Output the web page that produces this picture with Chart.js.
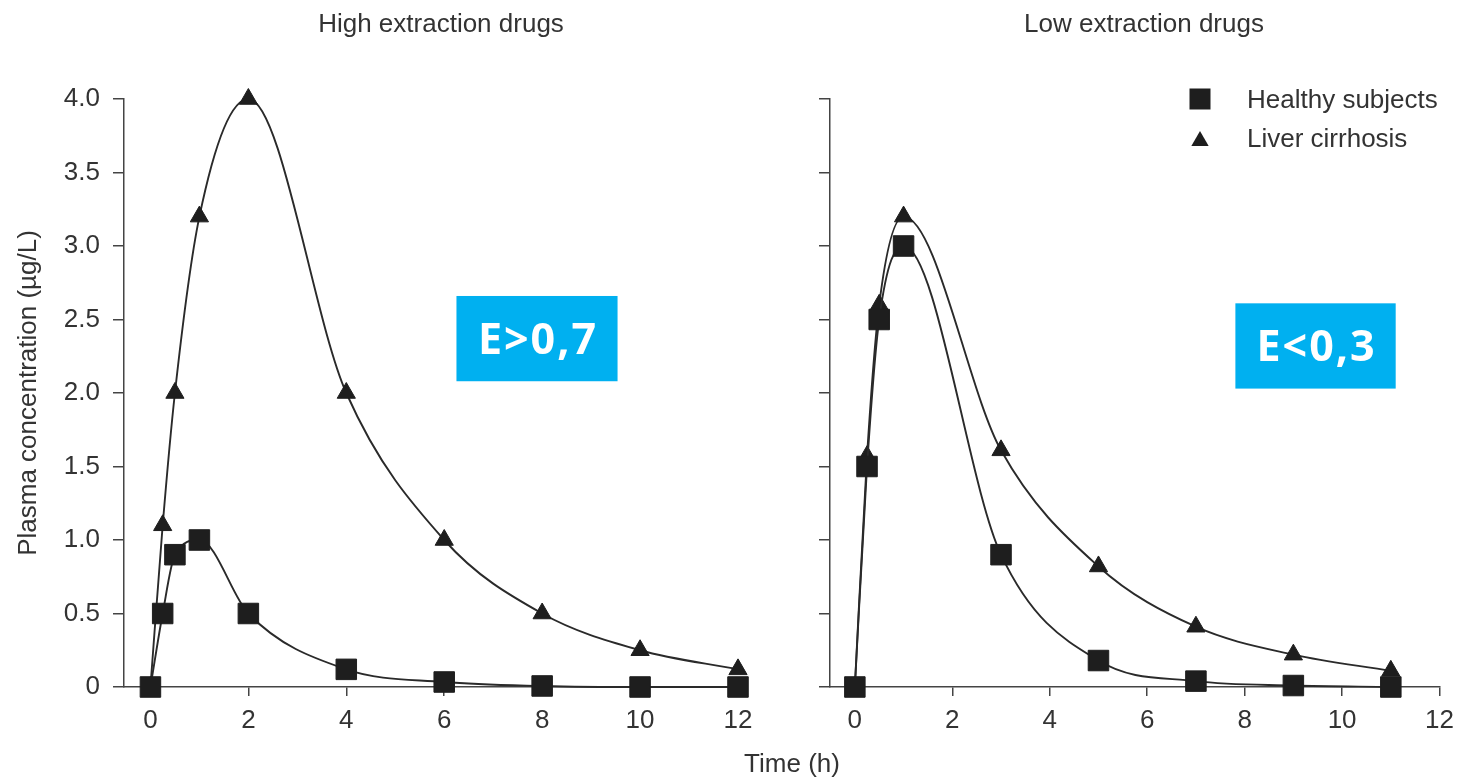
<!DOCTYPE html>
<html><head><meta charset="utf-8">
<script src="https://cdn.jsdelivr.net/npm/chart.js@4.4.1/dist/chart.umd.min.js"></script>
<style>
html,body{margin:0;padding:0;background:#fff;}
#wrap{position:relative;width:1463px;height:778px;overflow:hidden;}
canvas{position:absolute;left:0;top:0;}
</style></head><body>
<div id="wrap"><canvas id="c1" width="1463" height="778"></canvas><canvas id="c2" width="1463" height="778"></canvas></div>
<script>
// ---- data ----
const panelTitles = ['High extraction drugs', 'Low extraction drugs'];
const seriesNames = ['Healthy subjects', 'Liver cirrhosis'];
const xAxisTitle = 'Time (h)';
const yAxisTitle = 'Plasma concentration (µg/L)';
const xTicks = [0, 2, 4, 6, 8, 10, 12];
const yTicks = [0, 0.5, 1, 1.5, 2, 2.5, 3, 3.5, 4];
const yTickLabels = ['0', '0.5', '1.0', '1.5', '2.0', '2.5', '3.0', '3.5', '4.0'];

const highTimes = [0, 0.25, 0.5, 1, 2, 4, 6, 8, 10, 12];
const highHealthy = [0, 0.5, 0.9, 1.0, 0.5, 0.12, 0.034, 0.007, 0, 0];
const highCirrhosis = [0, 1.1, 2.0, 3.2, 4.0, 2.0, 1.0, 0.5, 0.25, 0.12];

const lowTimes = [0, 0.25, 0.5, 1, 3, 5, 7, 9, 11];
const lowHealthy = [0, 1.5, 2.5, 3.0, 0.9, 0.18, 0.04, 0.01, 0];
const lowCirrhosis = [0, 1.57, 2.6, 3.2, 1.61, 0.82, 0.41, 0.22, 0.11];

const badgeTexts = ['E>0,7', 'E<0,3'];

// ---- styles ----
const FONT = '"Liberation Sans", Arial, Helvetica, sans-serif';
const TEXT = '#333333';
const INK = '#1e1e1e';
const AXIS = '#444444';

function makeDataset(label, xs, ys, style, radius) {
  return {
    label,
    data: xs.map((x, i) => ({x, y: ys[i]})),
    borderColor: '#2a2a2a', borderWidth: 1.9,
    backgroundColor: INK,
    pointBackgroundColor: INK, pointBorderColor: INK, pointBorderWidth: 1,
    pointStyle: style, pointRadius: radius, pointHoverRadius: radius,
    cubicInterpolationMode: 'monotone', clip: false, fill: false
  };
}

function xScale(min) {
  return {
    type: 'linear', min: min, max: 12,
    afterBuildTicks: s => { s.ticks = xTicks.map(v => ({value: v})); },
    afterFit: s => { s.height = 91; },
    grid: {display: true, drawOnChartArea: false, drawTicks: true, tickLength: 9, color: AXIS, lineWidth: 1.5},
    border: {display: true, color: AXIS, width: 1.5},
    ticks: {color: TEXT, font: {family: FONT, size: 26}, padding: 9, maxRotation: 0, autoSkip: false,
      callback: (v) => String(v)}
  };
}

function yScale(showLabels, width) {
  const s = {
    type: 'linear', min: 0, max: 4,
    afterBuildTicks: sc => { sc.ticks = yTicks.map(v => ({value: v})); },
    afterFit: sc => { sc.width = width; },
    grid: {display: true, drawOnChartArea: false, drawTicks: true, tickLength: 11, color: AXIS, lineWidth: 1.5},
    border: {display: true, color: AXIS, width: 1.5},
    ticks: {display: showLabels, color: TEXT, font: {family: FONT, size: 26}, padding: 13, autoSkip: false,
      callback: (v, i) => yTickLabels[i]}
  };
  if (showLabels) {
    s.title = {display: true, text: yAxisTitle, color: TEXT, font: {family: FONT, size: 26}, padding: {top: 13, bottom: 0}};
  }
  return s;
}

const extrasPlugin = {
  id: 'extras',
  afterDraw(chart, args, opts) {
    const ctx = chart.ctx;
    ctx.save();
    ctx.fillStyle = TEXT;
    ctx.textBaseline = 'alphabetic';
    ctx.font = '26px ' + FONT;
    (opts.texts || []).forEach(t => {
      ctx.textAlign = t.align || 'center';
      ctx.fillText(t.text, t.x, t.y);
    });
    // badge placed in data coordinates
    if (opts.badge) {
      const b = opts.badge;
      const xs = chart.scales.x, ys = chart.scales.y;
      const l = xs.getPixelForValue(b.x0), r = xs.getPixelForValue(b.x1);
      const t = ys.getPixelForValue(b.y1), bt = ys.getPixelForValue(b.y0);
      ctx.fillStyle = '#00B0F0';
      ctx.fillRect(l, t, r - l, bt - t);
      ctx.fillStyle = '#ffffff';
      ctx.font = 'bold 43px "Open Sans", "DejaVu Sans", sans-serif';
      try { ctx.letterSpacing = '2px'; } catch (e) {}
      ctx.textAlign = 'center';
      ctx.textBaseline = 'alphabetic';
      ctx.fillText(b.text, (l + r) / 2 + 1, (t + bt) / 2 + 15);
      try { ctx.letterSpacing = '0px'; } catch (e) {}
    }
    // legend
    if (opts.legend) {
      const L = opts.legend;
      ctx.fillStyle = INK;
      ctx.fillRect(L.x - 10.5, L.y0 - 10.5, 21, 21);
      const tr = 10, ty = L.y1;
      ctx.beginPath();
      ctx.moveTo(L.x, ty - tr);
      ctx.lineTo(L.x + tr * 0.866, ty + tr * 0.5);
      ctx.lineTo(L.x - tr * 0.866, ty + tr * 0.5);
      ctx.closePath();
      ctx.fill();
      ctx.fillStyle = TEXT;
      ctx.font = '26px ' + FONT;
      ctx.textAlign = 'left';
      ctx.fillText(seriesNames[0], L.tx, L.y0 + 9);
      ctx.fillText(seriesNames[1], L.tx, L.y1 + 6);
    }
    ctx.restore();
  }
};

const common = {
  responsive: false, animation: false, events: [],
  plugins: {legend: {display: false}, tooltip: {enabled: false}, title: {display: false}}
};

new Chart(document.getElementById('c1'), {
  type: 'line',
  data: {datasets: [
    makeDataset(seriesNames[0], highTimes, highHealthy, 'rect', 14.5),
    makeDataset(seriesNames[1], highTimes, highCirrhosis, 'triangle', 10.5)
  ]},
  options: Object.assign({}, common, {
    layout: {padding: {left: 0, top: 99, right: 725, bottom: 0}},
    scales: {x: xScale(-0.54), y: yScale(true, 124)},
    plugins: Object.assign({}, common.plugins, {
      extras: {
        texts: [
          {text: panelTitles[0], x: 441, y: 32},
          {text: xAxisTitle, x: 792, y: 772}
        ],
        badge: {text: badgeTexts[0], x0: 6.25, x1: 9.54, y0: 2.08, y1: 2.66}
      }
    })
  }),
  plugins: [extrasPlugin]
});

new Chart(document.getElementById('c2'), {
  type: 'line',
  data: {datasets: [
    makeDataset(seriesNames[0], lowTimes, lowHealthy, 'rect', 14.5),
    makeDataset(seriesNames[1], lowTimes, lowCirrhosis, 'triangle', 10.5)
  ]},
  options: Object.assign({}, common, {
    layout: {padding: {left: 816, top: 99, right: 20, bottom: 0}},
    scales: {x: xScale(-0.51), y: yScale(false, 14)},
    plugins: Object.assign({}, common.plugins, {
      extras: {
        texts: [
          {text: panelTitles[1], x: 1144, y: 32}
        ],
        badge: {text: badgeTexts[1], x0: 7.81, x1: 11.1, y0: 2.03, y1: 2.61},
        legend: {x: 1200, y0: 99, y1: 141, tx: 1247}
      }
    })
  }),
  plugins: [extrasPlugin]
});
</script>
</body></html>
